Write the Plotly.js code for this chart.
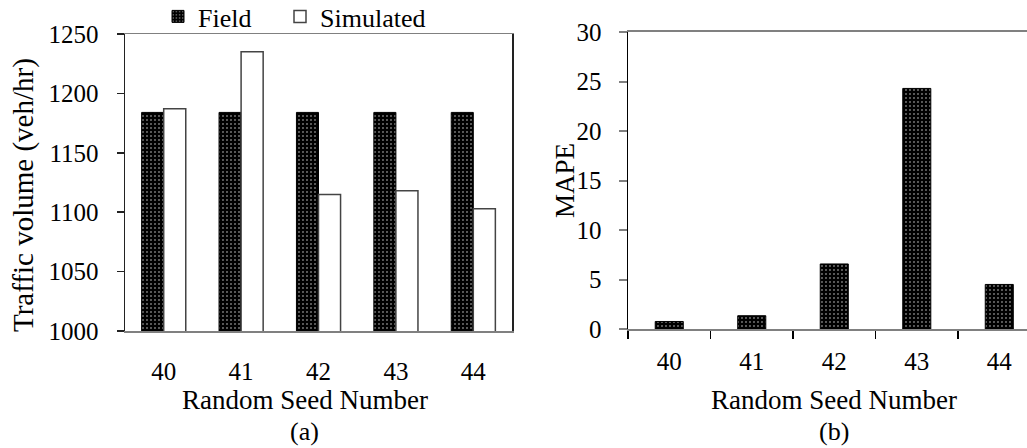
<!DOCTYPE html>
<html>
<head>
<meta charset="utf-8">
<script src="https://cdn.plot.ly/plotly-3.0.1.min.js"></script>
<style>html,body{margin:0;padding:0;background:#fff;}#chart{width:1027px;height:448px;}</style>
</head>
<body>
<div id="chart"></div>
<script>
// Data
const seeds = ['40', '41', '42', '43', '44'];
const fieldVolume = [1184, 1184, 1184, 1184, 1184];
const simulatedVolume = [1187, 1235, 1115, 1118, 1103];
const mape = [0.76, 1.34, 6.57, 24.3, 4.5];
const yTicksA = [1000, 1050, 1100, 1150, 1200, 1250];
const yTicksB = [0, 5, 10, 15, 20, 25, 30];

const FONT = 'Liberation Serif';
const W = 1027, H = 448;
const px = v => v / W;
const py = v => 1 - v / H;

const dotPattern = {shape: '.', bgcolor: '#000', fgcolor: '#fff', size: 4, solidity: 0.08};

const traces = [
  {type: 'bar', name: 'Field', x: seeds, y: fieldVolume, xaxis: 'x', yaxis: 'y', legend: 'legend',
   marker: {color: '#000', pattern: dotPattern, line: {color: '#000', width: 1}}},
  {type: 'bar', name: 'Simulated', x: seeds, y: simulatedVolume, xaxis: 'x', yaxis: 'y', legend: 'legend2',
   marker: {color: '#fff', line: {color: '#444', width: 1.5}}},
  {type: 'bar', name: 'MAPE', x: seeds, y: mape, xaxis: 'x2', yaxis: 'y2', width: 0.34,
   showlegend: false,
   marker: {color: '#000', pattern: dotPattern, line: {color: '#000', width: 1}}}
];

const tickFont = {family: FONT, size: 25, color: '#000'};
const titleFont = {family: FONT, size: 26, color: '#000'};
const legendBase = {orientation: 'h', y: py(-7), xanchor: 'left', yanchor: 'top',
                    font: titleFont, bgcolor: 'rgba(0,0,0,0)', itemwidth: 30};

const layout = {
  width: W, height: H,
  margin: {l: 0, r: 0, t: 0, b: 0, autoexpand: false},
  paper_bgcolor: '#fff', plot_bgcolor: '#fff',
  font: {family: FONT, color: '#000', size: 25},
  barmode: 'group', bargap: 0.43, bargroupgap: 0,
  showlegend: true,
  legend: Object.assign({}, legendBase, {x: px(158)}),
  legend2: Object.assign({}, legendBase, {x: px(280)}),
  xaxis: {domain: [px(125), px(512)], anchor: 'y', type: 'category',
          range: [-0.5, 4.5], showline: true, mirror: true, linecolor: '#808080', linewidth: 1.5,
          ticks: '', showgrid: false, zeroline: false, tickfont: tickFont, ticklabelstandoff: 17},
  yaxis: {domain: [py(331), py(34)], anchor: 'x', range: [1000, 1250], tickvals: yTicksA,
          showline: true, mirror: true, linecolor: '#222', linewidth: 1.5,
          ticks: 'outside', ticklen: 7, tickcolor: '#222', tickwidth: 1.5,
          showgrid: false, zeroline: false, tickfont: tickFont, ticklabelstandoff: 13},
  xaxis2: {domain: [px(628), 1], anchor: 'y2', type: 'category',
           range: [-0.5, 4.336], showline: true, mirror: true, linecolor: '#808080', linewidth: 2,
           ticks: 'outside', tickson: 'boundaries', ticklen: 8, tickcolor: '#000', tickwidth: 1.5,
           showgrid: false, zeroline: false, tickfont: tickFont, ticklabelstandoff: 9},
  yaxis2: {domain: [py(329), py(32)], anchor: 'x2', range: [0, 30], tickvals: yTicksB,
           showline: true, linecolor: '#000', linewidth: 1.5,
           ticks: 'outside', ticklen: 8, tickcolor: '#808080', tickwidth: 2,
           showgrid: false, zeroline: false, tickfont: tickFont, ticklabelstandoff: 12},
  annotations: [
    {text: 'Random Seed Number', xref: 'paper', yref: 'paper', x: px(305), y: py(400),
     xanchor: 'center', yanchor: 'middle', showarrow: false, font: {family: FONT, size: 27, color: '#000'}},
    {text: '(a)', xref: 'paper', yref: 'paper', x: px(304), y: py(431),
     xanchor: 'center', yanchor: 'middle', showarrow: false, font: titleFont},
    {text: 'Random Seed Number', xref: 'paper', yref: 'paper', x: px(834), y: py(400),
     xanchor: 'center', yanchor: 'middle', showarrow: false, font: {family: FONT, size: 27, color: '#000'}},
    {text: '(b)', xref: 'paper', yref: 'paper', x: px(834), y: py(431),
     xanchor: 'center', yanchor: 'middle', showarrow: false, font: titleFont},
    {text: 'Traffic volume (veh/hr)', xref: 'paper', yref: 'paper', x: px(23), y: py(195),
     xanchor: 'center', yanchor: 'middle', textangle: -90, showarrow: false,
     font: {family: FONT, size: 29, color: '#000'}},
    {text: 'MAPE', xref: 'paper', yref: 'paper', x: px(565), y: py(181),
     xanchor: 'center', yanchor: 'middle', textangle: -90, showarrow: false,
     font: {family: FONT, size: 27, color: '#000'}}
  ]
};

Plotly.newPlot('chart', traces, layout, {staticPlot: true, displayModeBar: false});
</script>
</body>
</html>
